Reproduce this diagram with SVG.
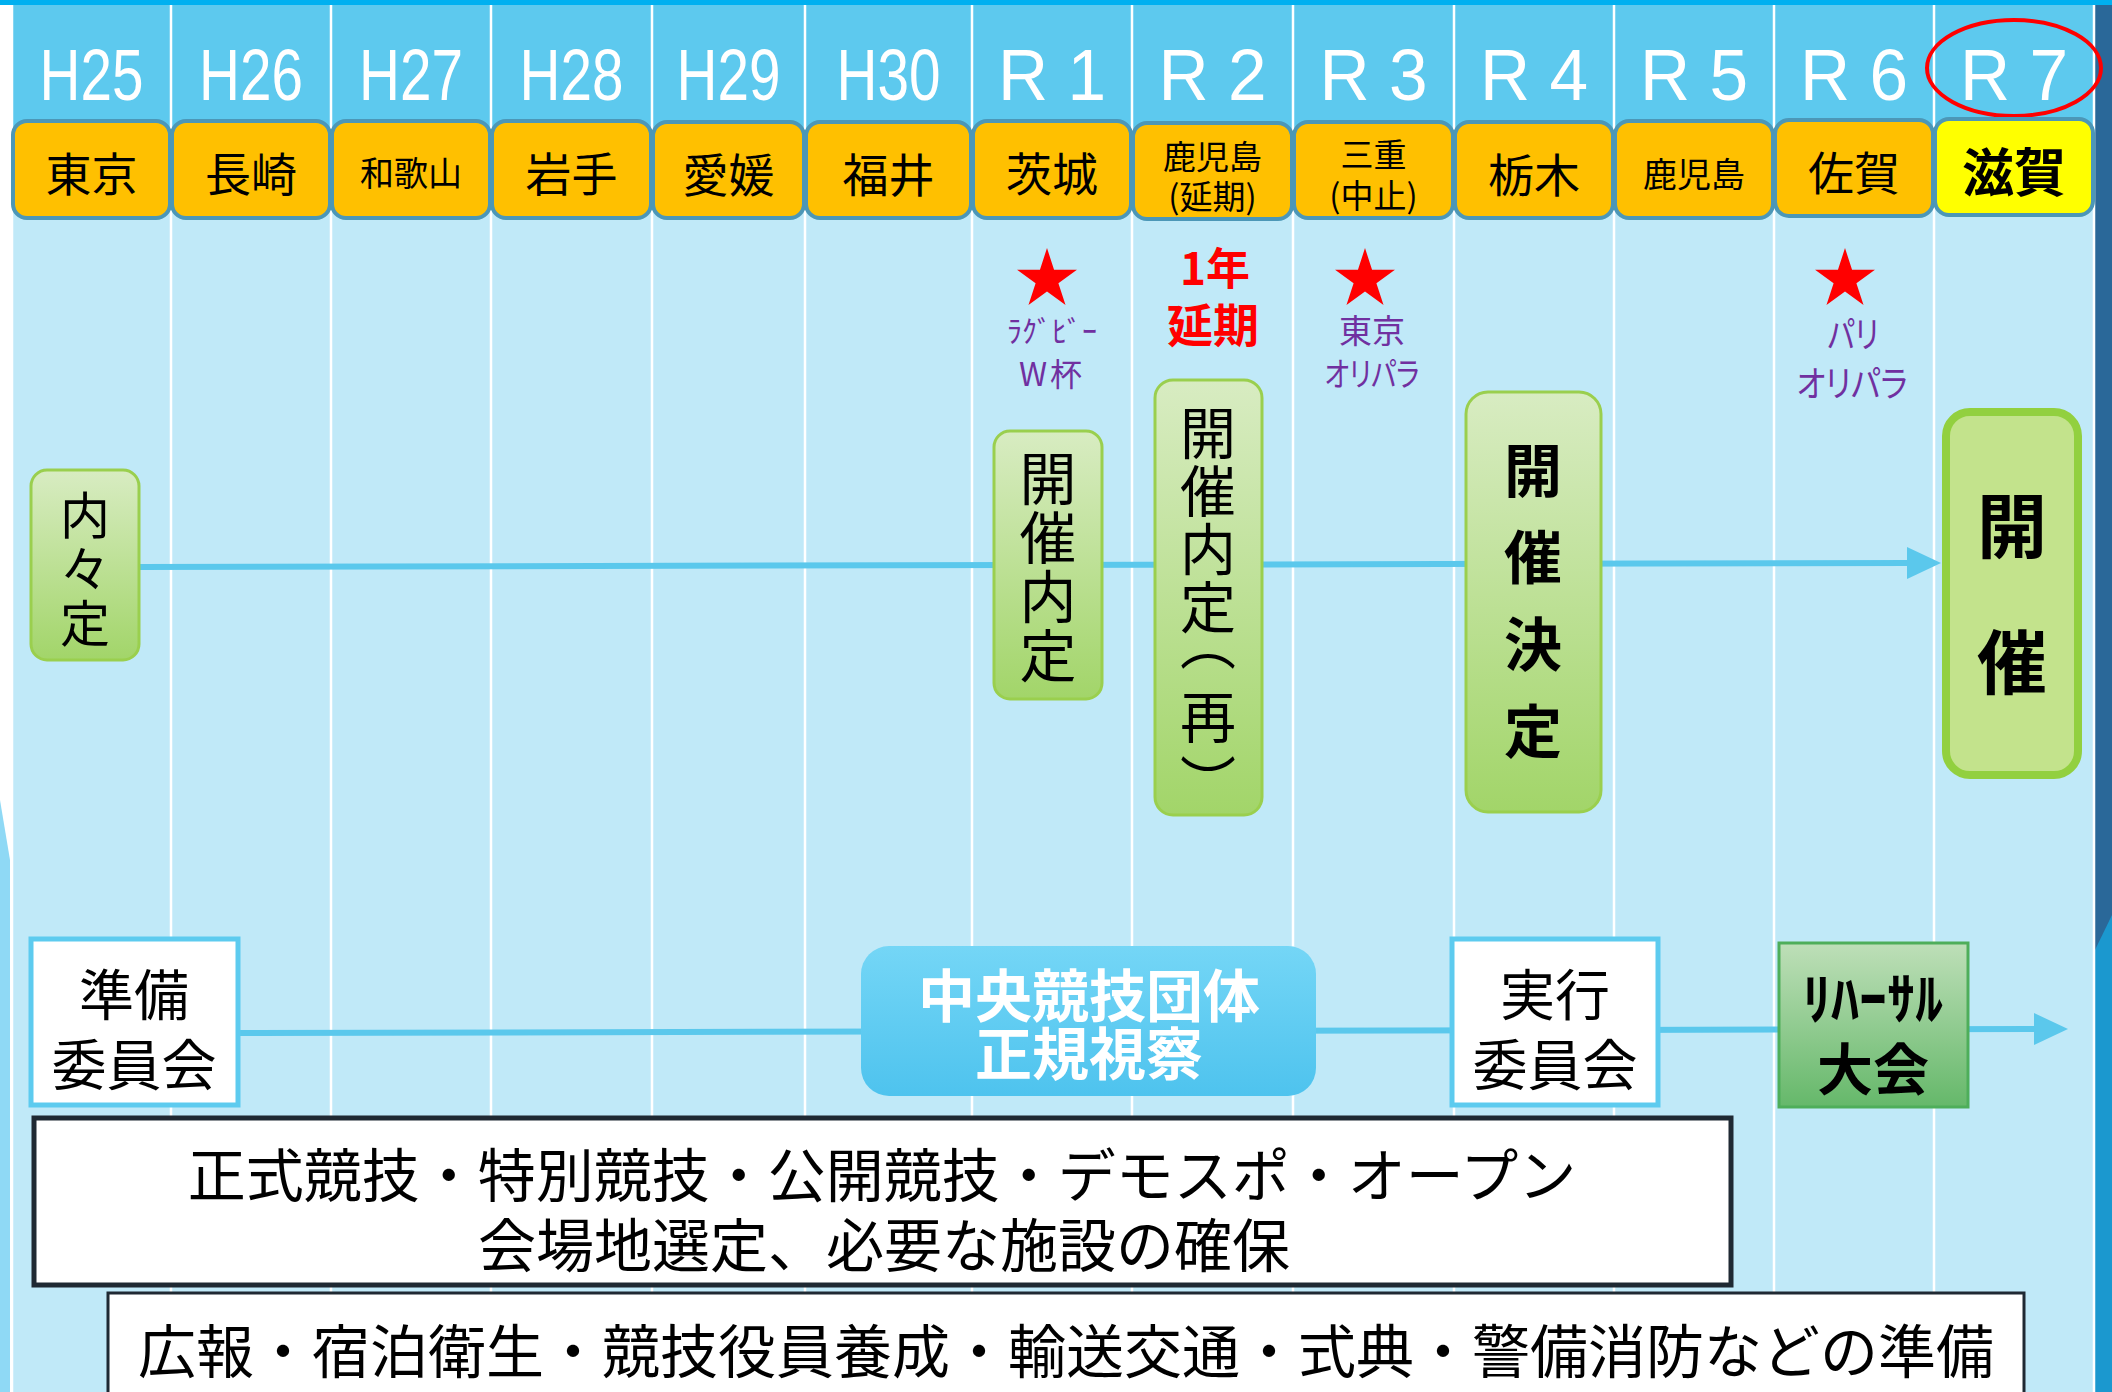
<svg xmlns="http://www.w3.org/2000/svg" width="2112" height="1392" viewBox="0 0 2112 1392">
<style>
.jp{font-family:"Noto Sans CJK JP","Noto Sans CJK SC",sans-serif;text-anchor:middle;dominant-baseline:central}
.vt{font-family:"Noto Sans CJK JP","Noto Sans CJK SC",sans-serif;writing-mode:vertical-rl;text-anchor:start;dominant-baseline:central}
.yr{font-family:"Liberation Sans Narrow","Liberation Sans",Arial,sans-serif;font-size:72px;fill:#fff;text-anchor:middle}
.pref{fill:#FFC000;stroke:#4C97B7;stroke-width:4}
.col{stroke:#fff;stroke-width:2.5}
.pur{fill:#7030A0;font-feature-settings:"palt"}
.grn{fill:url(#gGreen);stroke:#9ACF4E;stroke-width:3}
.conn{stroke:#5BC8EC;stroke-width:6;fill:none}
.cmt{fill:#fff;stroke:#5DCBEF;stroke-width:5}
.txtbox{fill:#fff;stroke:#1F2933}
</style>
<defs>
<linearGradient id="gGreen" x1="0" y1="0" x2="0" y2="1"><stop offset="0" stop-color="#D8ECC2"/><stop offset="1" stop-color="#A2D569"/></linearGradient>
<linearGradient id="gBlue" x1="0" y1="0" x2="0" y2="1"><stop offset="0" stop-color="#74D6F6"/><stop offset="1" stop-color="#4EC3EE"/></linearGradient>
<linearGradient id="gReh" x1="0" y1="0" x2="0" y2="1"><stop offset="0" stop-color="#BEDFB8"/><stop offset="1" stop-color="#65B86A"/></linearGradient>
<polygon id="star" fill="#FF0000" points="0,-31.5 7.05,-9.71 29.96,-9.73 11.41,3.71 18.52,25.48 0,12 -18.52,25.48 -11.41,3.71 -29.96,-9.73 -7.05,-9.71"/>
<marker id="arr" viewBox="0 0 34 32" markerWidth="34" markerHeight="32" refX="3" refY="16" orient="auto" markerUnits="userSpaceOnUse"><path d="M0,0 L34,16 L0,32 z" fill="#5BC8EC"/></marker>
</defs>

<!-- background -->
<rect x="0" y="0" width="2112" height="1392" fill="#fff"/>
<rect x="12" y="5" width="2082" height="1387" fill="#C0E9F8"/>
<rect x="12" y="5" width="2082" height="165" fill="#5DC9EE"/>
<rect x="0" y="0" width="2112" height="5" fill="#00B0F0"/>
<rect x="2095" y="5" width="17" height="1387" fill="#2A6899"/>
<polygon points="2095,950 2112,915 2112,1392 2095,1392" fill="#1B98CF"/>
<polygon points="0,800 10,860 10,1392 0,1392" fill="#8FD9F5"/>
<g id="gridlines">
<line class="col" x1="12" y1="5" x2="12" y2="1392"/>
<line class="col" x1="171" y1="5" x2="171" y2="1392"/>
<line class="col" x1="331" y1="5" x2="331" y2="1392"/>
<line class="col" x1="491" y1="5" x2="491" y2="1392"/>
<line class="col" x1="652" y1="5" x2="652" y2="1392"/>
<line class="col" x1="805" y1="5" x2="805" y2="1392"/>
<line class="col" x1="972" y1="5" x2="972" y2="1392"/>
<line class="col" x1="1132" y1="5" x2="1132" y2="1392"/>
<line class="col" x1="1293" y1="5" x2="1293" y2="1392"/>
<line class="col" x1="1454" y1="5" x2="1454" y2="1392"/>
<line class="col" x1="1614" y1="5" x2="1614" y2="1392"/>
<line class="col" x1="1774" y1="5" x2="1774" y2="1392"/>
<line class="col" x1="1934" y1="5" x2="1934" y2="1392"/>
<line class="col" x1="2094" y1="5" x2="2094" y2="1392"/>
</g>

<!-- year headers -->
<g id="years">
<text class="yr" x="91.5" y="100" textLength="104" lengthAdjust="spacingAndGlyphs">H25</text>
<text class="yr" x="251" y="100" textLength="104" lengthAdjust="spacingAndGlyphs">H26</text>
<text class="yr" x="411" y="100" textLength="104" lengthAdjust="spacingAndGlyphs">H27</text>
<text class="yr" x="571.5" y="100" textLength="104" lengthAdjust="spacingAndGlyphs">H28</text>
<text class="yr" x="728.5" y="100" textLength="104" lengthAdjust="spacingAndGlyphs">H29</text>
<text class="yr" x="888.5" y="100" textLength="104" lengthAdjust="spacingAndGlyphs">H30</text>
<text class="yr" x="1052" y="100" textLength="108" lengthAdjust="spacingAndGlyphs">R 1</text>
<text class="yr" x="1212.5" y="100" textLength="108" lengthAdjust="spacingAndGlyphs">R 2</text>
<text class="yr" x="1373.5" y="100" textLength="108" lengthAdjust="spacingAndGlyphs">R 3</text>
<text class="yr" x="1534" y="100" textLength="108" lengthAdjust="spacingAndGlyphs">R 4</text>
<text class="yr" x="1694" y="100" textLength="108" lengthAdjust="spacingAndGlyphs">R 5</text>
<text class="yr" x="1854" y="100" textLength="108" lengthAdjust="spacingAndGlyphs">R 6</text>
<text class="yr" x="2014" y="100" textLength="108" lengthAdjust="spacingAndGlyphs">R 7</text>
<ellipse cx="2014" cy="68" rx="87" ry="48" fill="none" stroke="#FF0000" stroke-width="4"/>
</g>

<!-- prefecture boxes -->
<g id="pref-h25"><rect class="pref" x="13" y="121" width="157" height="97" rx="14"/><text class="jp" x="91.5" y="171" font-size="46">東京</text></g>
<g id="pref-h26"><rect class="pref" x="172" y="121" width="158" height="97" rx="14"/><text class="jp" x="251" y="171" font-size="46">長崎</text></g>
<g id="pref-h27"><rect class="pref" x="332" y="121" width="158" height="97" rx="14"/><text class="jp" x="411" y="171" font-size="34">和歌山</text></g>
<g id="pref-h28"><rect class="pref" x="492" y="121" width="159" height="97" rx="14"/><text class="jp" x="571.5" y="171" font-size="46">岩手</text></g>
<g id="pref-h29"><rect class="pref" x="653" y="122" width="151" height="96" rx="14"/><text class="jp" x="728.5" y="172" font-size="46">愛媛</text></g>
<g id="pref-h30"><rect class="pref" x="806" y="122" width="165" height="96" rx="14"/><text class="jp" x="888.5" y="172" font-size="46">福井</text></g>
<g id="pref-r1"><rect class="pref" x="973" y="121" width="158" height="97" rx="14"/><text class="jp" x="1052" y="171" font-size="46">茨城</text></g>
<g id="pref-r2"><rect class="pref" x="1133" y="123" width="159" height="96" rx="14"/><text class="jp" font-size="33"><tspan x="1212.5" y="155">鹿児島</tspan><tspan x="1212.5" y="195">(延期)</tspan></text></g>
<g id="pref-r3"><rect class="pref" x="1294" y="122" width="159" height="96" rx="14"/><text class="jp" font-size="33"><tspan x="1373.5" y="153">三重</tspan><tspan x="1373.5" y="194">(中止)</tspan></text></g>
<g id="pref-r4"><rect class="pref" x="1455" y="122" width="158" height="96" rx="14"/><text class="jp" x="1534" y="172" font-size="46">栃木</text></g>
<g id="pref-r5"><rect class="pref" x="1615" y="121" width="158" height="97" rx="14"/><text class="jp" x="1694" y="172" font-size="34">鹿児島</text></g>
<g id="pref-r6"><rect class="pref" x="1775" y="120" width="158" height="96" rx="14"/><text class="jp" x="1854" y="170" font-size="46">佐賀</text></g>
<g id="pref-r7"><rect class="pref" x="1935" y="119" width="158" height="96" rx="14" style="fill:#FFFF00"/><text class="jp" x="2014" y="169" font-size="52" font-weight="bold">滋賀</text></g>

<!-- events -->
<g id="event-rugby"><use href="#star" x="1047" y="279.5"/><text class="jp pur"><tspan x="1052" y="329" font-size="30" textLength="90" lengthAdjust="spacingAndGlyphs">ﾗｸﾞﾋﾞｰ</tspan><tspan x="1052" y="372" font-size="32" letter-spacing="3">W杯</tspan></text></g>
<g id="event-delay"><text class="jp" font-weight="bold" fill="#FF0000"><tspan x="1215" y="266" font-size="44">1年</tspan><tspan x="1213" y="322" font-size="46">延期</tspan></text></g>
<g id="event-tokyo"><use href="#star" x="1365" y="279.5"/><text class="jp pur" font-size="33"><tspan x="1372" y="329">東京</tspan><tspan x="1372" y="372" textLength="95" lengthAdjust="spacingAndGlyphs">オリパラ</tspan></text></g>
<g id="event-paris"><use href="#star" x="1845" y="279.5"/><text class="jp pur" font-size="36"><tspan x="1853" y="332" textLength="51" lengthAdjust="spacingAndGlyphs">パリ</tspan><tspan x="1852" y="381" textLength="111" lengthAdjust="spacingAndGlyphs">オリパラ</tspan></text></g>

<!-- connectors -->
<g id="connectors">
<line class="conn" x1="139" y1="567" x2="1910" y2="563" marker-end="url(#arr)"/>
<line class="conn" x1="238" y1="1033" x2="2037" y2="1029" marker-end="url(#arr)"/>
</g>

<!-- middle nodes -->
<g id="node-naishitei"><rect class="grn" x="31" y="470" width="108" height="190" rx="16"/>
<text class="vt" x="85" y="490" font-size="50" letter-spacing="4">内々定</text></g>
<g id="node-naitei-r1"><rect class="grn" x="994" y="431" width="108" height="268" rx="16"/>
<text class="vt" x="1048" y="450" font-size="57" letter-spacing="2">開催内定</text></g>
<g id="node-naitei-r2"><rect class="grn" x="1155" y="380" width="107" height="435" rx="18"/>
<text class="vt" x="1208" y="405" font-size="56" letter-spacing="2">開催内定<tspan x="1208" y="615">（</tspan><tspan x="1208" y="689">再</tspan><tspan x="1208" y="754">）</tspan></text></g>
<g id="node-kettei"><rect class="grn" x="1466" y="392" width="135" height="420" rx="22"/>
<text class="vt" x="1533" y="441" font-size="58" font-weight="bold" letter-spacing="29">開催決定</text></g>
<g id="node-kaisai"><rect x="1946" y="412" width="132" height="363" rx="24" fill="#C3E38C" stroke="#92D03F" stroke-width="8"/>
<text class="vt" x="2012" y="491" font-size="70" font-weight="bold" letter-spacing="66">開催</text></g>

<!-- bottom nodes -->
<g id="node-junbi"><rect class="cmt" x="31" y="939" width="207" height="166"/>
<text class="jp" font-size="55"><tspan x="134" y="991">準備</tspan><tspan x="134" y="1061">委員会</tspan></text></g>
<g id="node-shisatsu"><rect x="861" y="946" width="455" height="150" rx="28" fill="url(#gBlue)"/>
<text class="jp" font-size="57" font-weight="bold" fill="#fff"><tspan x="1089" y="992">中央競技団体</tspan><tspan x="1089" y="1050">正規視察</tspan></text></g>
<g id="node-jikko"><rect class="cmt" x="1452" y="939" width="206" height="166"/>
<text class="jp" font-size="55"><tspan x="1555" y="991">実行</tspan><tspan x="1555" y="1061">委員会</tspan></text></g>
<g id="node-rehearsal"><rect x="1779" y="943" width="189" height="164" fill="url(#gReh)" stroke="#4EAE5A" stroke-width="3"/>
<text class="jp" font-size="56" font-weight="bold"><tspan x="1873" y="994">ﾘﾊｰｻﾙ</tspan><tspan x="1873" y="1065">大会</tspan></text></g>

<!-- text boxes -->
<g id="box-kyogi"><rect class="txtbox" x="34" y="1118" width="1697" height="167" stroke-width="5"/>
<text class="jp" font-size="58"><tspan x="882" y="1172">正式競技・特別競技・公開競技・デモスポ・オープン</tspan><tspan x="884" y="1242">会場地選定、必要な施設の確保</tspan></text></g>
<g id="box-junbi"><rect class="txtbox" x="108" y="1293" width="1916" height="120" stroke-width="3"/>
<text class="jp" x="1066" y="1348" font-size="58">広報・宿泊衛生・競技役員養成・輸送交通・式典・警備消防などの準備</text></g>
</svg>
